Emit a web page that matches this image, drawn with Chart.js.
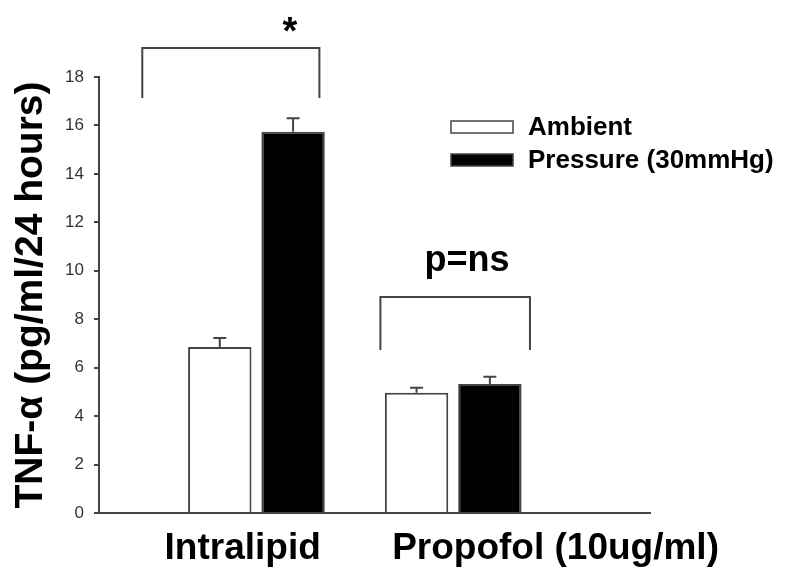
<!DOCTYPE html>
<html>
<head>
<meta charset="utf-8">
<script src="https://cdn.jsdelivr.net/npm/chart.js@4.4.1/dist/chart.umd.min.js"></script>
<style>
  html, body { margin: 0; padding: 0; background: #fff; }
  #wrap { width: 800px; height: 585px; position: relative; }
</style>
</head>
<body>
<div id="wrap"><canvas id="chart" width="800" height="585"></canvas></div>
<script>
  // Values (bar height + upper SEM)
  var categories = ['Intralipid', 'Propofol (10ug/ml)'];
  var ambient = [6.85, 4.96];
  var ambientErr = [0.37, 0.21];
  var pressure = [15.74, 5.33];
  var pressureErr = [0.56, 0.29];
  var yTicks = [0, 2, 4, 6, 8, 10, 12, 14, 16, 18];

  var FONT = "'Liberation Sans', Arial, sans-serif";
  var LINE = '#444';

  // one-sided error bars with a cap
  var errorBars = {
    id: 'errorBars',
    afterDatasetsDraw: function (chart) {
      var ctx = chart.ctx, y = chart.scales.y;
      ctx.save();
      ctx.strokeStyle = LINE;
      ctx.lineWidth = 2;
      chart.data.datasets.forEach(function (ds, i) {
        var meta = chart.getDatasetMeta(i);
        meta.data.forEach(function (bar, j) {
          var top = y.getPixelForValue(ds.data[j].y + ds.errors[j]);
          ctx.beginPath();
          ctx.moveTo(bar.x, bar.y);
          ctx.lineTo(bar.x, top);
          ctx.moveTo(bar.x - 6.5, top);
          ctx.lineTo(bar.x + 6.5, top);
          ctx.stroke();
        });
      });
      ctx.restore();
    }
  };

  // significance brackets + custom legend
  var annotations = {
    id: 'annotations',
    afterDraw: function (chart) {
      var ctx = chart.ctx, x = chart.scales.x, y = chart.scales.y;
      function bracket(x0, x1, yTop, yBot) {
        var px0 = x.getPixelForValue(x0), px1 = x.getPixelForValue(x1);
        var pt = y.getPixelForValue(yTop), pb = y.getPixelForValue(yBot);
        ctx.beginPath();
        ctx.moveTo(px0, pb); ctx.lineTo(px0, pt); ctx.lineTo(px1, pt); ctx.lineTo(px1, pb);
        ctx.stroke();
      }
      ctx.save();
      ctx.strokeStyle = LINE;
      ctx.lineWidth = 2;
      bracket(0.42, 1.32, 19.2, 17.13);
      bracket(1.63, 2.39, 8.92, 6.73);

      ctx.fillStyle = '#000';
      ctx.textAlign = 'center';
      ctx.textBaseline = 'middle';
      ctx.font = 'bold 38px ' + FONT;
      ctx.fillText('*', x.getPixelForValue(1.17), y.getPixelForValue(19.8));
      ctx.font = 'bold 36px ' + FONT;
      ctx.fillText('p=ns', x.getPixelForValue(2.07), y.getPixelForValue(10.4));

      // legend
      ctx.textAlign = 'left';
      ctx.font = 'bold 26px ' + FONT;
      chart.data.datasets.forEach(function (ds, i) {
        var ly = 127 + i * 33;
        ctx.fillStyle = ds.backgroundColor;
        ctx.fillRect(451, ly - 6, 62, 12);
        ctx.lineWidth = 1.5;
        ctx.strokeStyle = LINE;
        ctx.strokeRect(451, ly - 6, 62, 12);
        ctx.fillStyle = '#000';
        ctx.fillText(ds.label, 528, ly + 1);
      });
      ctx.restore();
    }
  };

  function toPoints(vals) {
    return vals.map(function (v, i) { return { x: i + 1, y: v }; });
  }

  new Chart(document.getElementById('chart'), {
    type: 'bar',
    data: {
      datasets: [
        { label: 'Ambient', data: toPoints(ambient), errors: ambientErr,
          backgroundColor: '#ffffff', borderColor: LINE, borderWidth: 2 },
        { label: 'Pressure (30mmHg)', data: toPoints(pressure), errors: pressureErr,
          backgroundColor: '#000000', borderColor: LINE, borderWidth: 2 }
      ]
    },
    options: {
      responsive: false,
      animation: false,
      categoryPercentage: 0.745,
      barPercentage: 0.865,
      layout: { padding: { top: 77, right: 150, left: 8, bottom: 0 } },
      plugins: { legend: { display: false }, tooltip: { enabled: false } },
      scales: {
        x: {
          type: 'linear', min: 0.2, max: 3.0, offset: false,
          grid: { display: false },
          border: { display: true, color: LINE, width: 2 },
          afterBuildTicks: function (s) { s.ticks = [{ value: 0.93 }, { value: 2.52 }]; },
          afterFit: function (s) { s.height = 72; },
          ticks: {
            autoSkip: false, maxRotation: 0, padding: 6, color: '#000',
            font: { family: FONT, size: 37, weight: 'bold' },
            callback: function (v, i) { return categories[i]; }
          }
        },
        y: {
          min: 0, max: 18,
          afterBuildTicks: function (s) { s.ticks = yTicks.map(function (v) { return { value: v }; }); },
          afterFit: function (s) { s.width = 91; },
          grid: { display: true, drawOnChartArea: false, drawTicks: true, tickLength: 5, color: LINE, lineWidth: 2 },
          border: { display: true, color: LINE, width: 2 },
          ticks: { padding: 10, color: '#333', font: { family: FONT, size: 17 } },
          title: {
            display: true, text: 'TNF-\u03b1 (pg/ml/24 hours)', color: '#000', padding: 0,
            font: { family: FONT, size: 39, weight: 'bold' }
          }
        }
      }
    },
    plugins: [errorBars, annotations]
  });
</script>
</body>
</html>
